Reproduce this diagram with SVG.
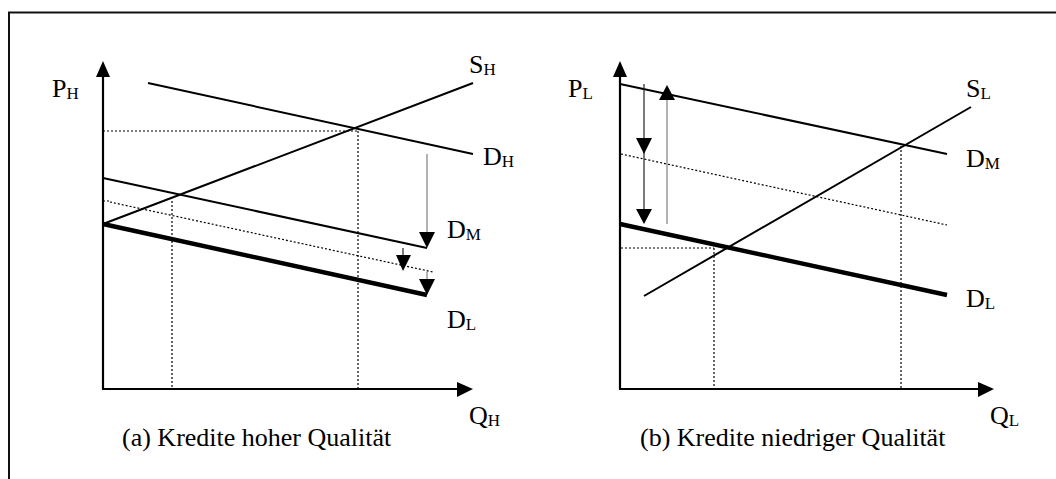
<svg xmlns="http://www.w3.org/2000/svg" width="1056" height="479" viewBox="0 0 1056 479">
<defs>
<style>
.frame{fill:none;stroke:#111;stroke-width:2}
.axis{stroke:#000;stroke-width:2.2;fill:none}
.ln{stroke:#000;stroke-width:2;fill:none}
.bold{stroke:#000;stroke-width:4.4;fill:none}
.dot{stroke:#000;stroke-width:1.2;stroke-dasharray:2 2;fill:none}
.thin{stroke:#222;stroke-width:1.2;fill:none}
.gray{stroke:#999;stroke-width:1.5;fill:none}
.head{fill:#000}
text{font-family:"Liberation Serif","Times New Roman",serif;fill:#000}
.lb{font-size:26px}
.sb{font-size:17px}
.cap{font-size:26px}
</style>
</defs>
<path class="frame" d="M9,479 V12.5 H1056"/>
<g id="panel-a">
<g id="axes-a">
<line class="axis" x1="103" y1="389" x2="103" y2="74"/>
<polygon class="head" points="103,61 96,77 110,77"/>
<line class="axis" x1="102" y1="389" x2="460" y2="389"/>
<polygon class="head" points="473,389 457,382 457,397"/>
</g>
<g id="curves-a">
<line class="ln" x1="148" y1="83" x2="473" y2="154"/>
<line class="ln" x1="103" y1="224" x2="473" y2="83"/>
<line class="ln" x1="103" y1="178" x2="427" y2="248"/>
<line class="dot" x1="103" y1="201" x2="110" y2="201"/>
<line class="dot" x1="110" y1="202" x2="433" y2="272"/>
<line class="bold" x1="103" y1="224" x2="427" y2="295"/>
<line class="dot" x1="103" y1="131" x2="358" y2="131"/>
<line class="dot" x1="358" y1="131" x2="358" y2="388"/>
<line class="dot" x1="172" y1="201" x2="172" y2="388"/>
</g>
<g id="arrows-a">
<line class="gray" x1="427" y1="154" x2="427" y2="234"/>
<polygon class="head" points="427,248 419,232 435,232"/>
<line class="thin" x1="403" y1="248" x2="403" y2="257"/>
<polygon class="head" points="403,271 396,255 411,255"/>
<line class="gray" x1="427" y1="272" x2="427" y2="281"/>
<polygon class="head" points="427,295 419,279 435,279"/>
</g>
<g id="labels-a">
<text class="lb" x="52" y="97">P<tspan class="sb" dy="1.5">H</tspan></text>
<text class="lb" x="469" y="73">S<tspan class="sb" dy="1.5">H</tspan></text>
<text class="lb" x="483" y="165">D<tspan class="sb" dy="1.5">H</tspan></text>
<text class="lb" x="447" y="238">D<tspan class="sb" dy="1.5">M</tspan></text>
<text class="lb" x="447" y="328">D<tspan class="sb" dy="1.5">L</tspan></text>
<text class="lb" x="469" y="424">Q<tspan class="sb" dy="1.5">H</tspan></text>
<text class="cap" x="122" y="446">(a) Kredite hoher Qualität</text>
</g>
</g>
<g id="panel-b">
<g id="axes-b">
<line class="axis" x1="620" y1="389" x2="620" y2="74"/>
<polygon class="head" points="620,61 613,77 627,77"/>
<line class="axis" x1="619" y1="389" x2="981" y2="389"/>
<polygon class="head" points="994,389 978,382 978,397"/>
</g>
<g id="curves-b">
<line class="ln" x1="620" y1="84" x2="947" y2="154"/>
<line class="ln" x1="644" y1="296" x2="971" y2="107"/>
<line class="dot" x1="621" y1="154" x2="947" y2="225"/>
<line class="bold" x1="620" y1="224" x2="947" y2="295"/>
<line class="dot" x1="621" y1="248" x2="714" y2="248"/>
<line class="dot" x1="714" y1="248" x2="714" y2="388"/>
<line class="dot" x1="901" y1="146" x2="901" y2="388"/>
</g>
<g id="arrows-b">
<line class="thin" x1="644" y1="84" x2="644" y2="212"/>
<polygon class="head" points="644,154 636,138 652,138"/>
<polygon class="head" points="644,224 636,209 652,209"/>
<line class="gray" x1="667" y1="224" x2="667" y2="97"/>
<polygon class="head" points="667,85 659,100 675,100"/>
</g>
<g id="labels-b">
<text class="lb" x="568" y="97">P<tspan class="sb" dy="1.5">L</tspan></text>
<text class="lb" x="966" y="97">S<tspan class="sb" dy="1.5">L</tspan></text>
<text class="lb" x="966" y="167">D<tspan class="sb" dy="1.5">M</tspan></text>
<text class="lb" x="966" y="307">D<tspan class="sb" dy="1.5">L</tspan></text>
<text class="lb" x="990" y="424">Q<tspan class="sb" dy="1.5">L</tspan></text>
<text class="cap" x="640" y="446">(b) Kredite niedriger Qualität</text>
</g>
</g>
</svg>
